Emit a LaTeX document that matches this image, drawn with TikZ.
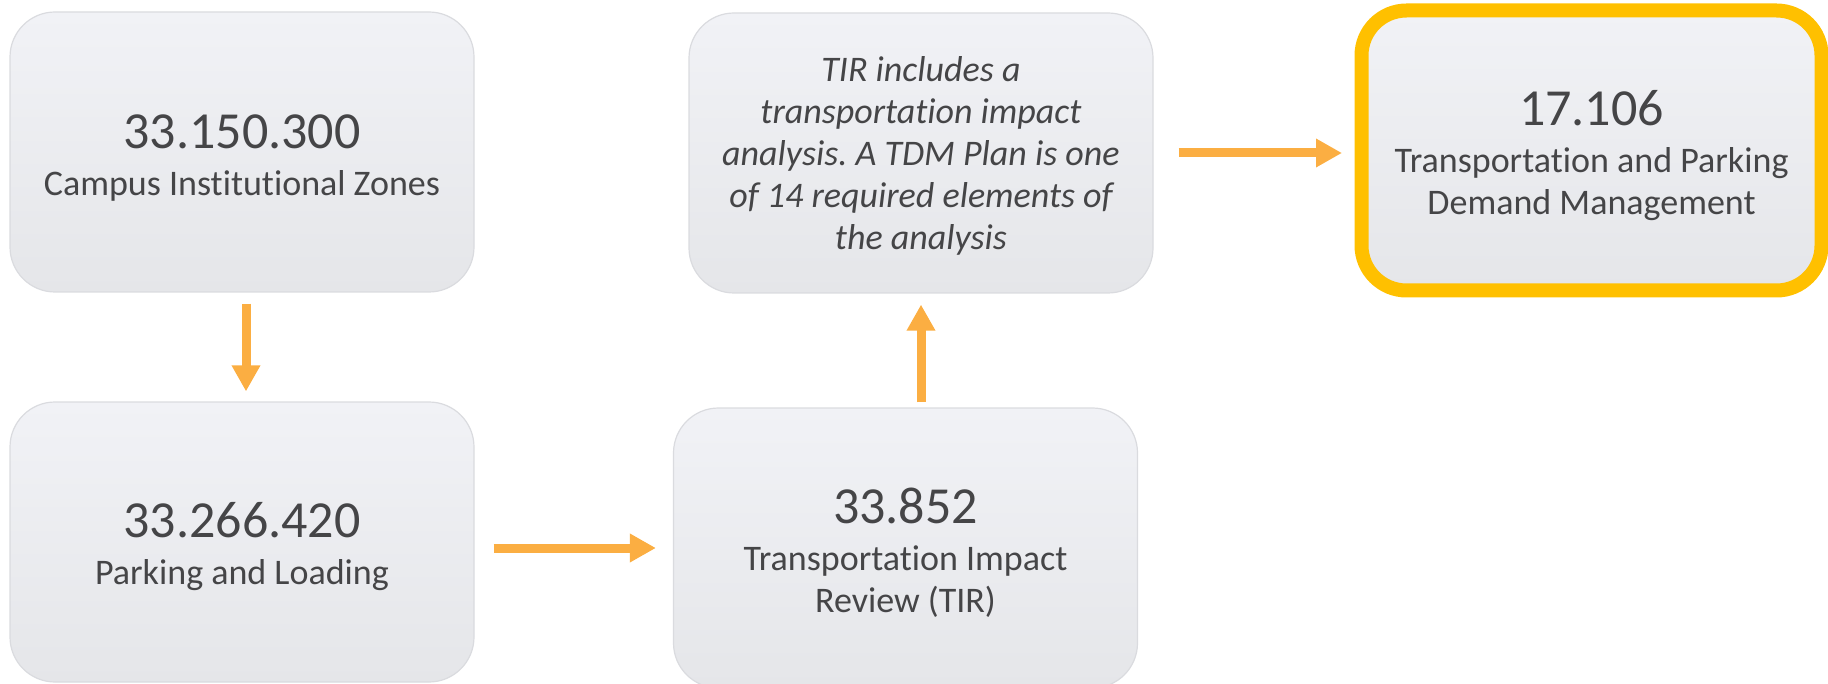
\documentclass[tikz,border=0pt]{standalone}
\usepackage{fontspec}
\setmainfont{Carlito}[RawFeature={-liga;-clig;-calt;-dlig}]
\usetikzlibrary{arrows.meta,calc}
\definecolor{txt}{HTML}{454547}
\definecolor{arr}{HTML}{FBAE42}
\definecolor{gold}{HTML}{FFC000}
\definecolor{boxtop}{HTML}{F1F2F6}
\definecolor{boxbot}{HTML}{E5E6E9}
\definecolor{boxline}{HTML}{DADBDF}
\newcommand{\bignum}[1]{{\fontsize{52}{52}\selectfont\rule{0pt}{45pt}#1}}
\frenchspacing
\begin{document}
\begin{tikzpicture}[x=1pt,y=-1pt,
  box/.style={rectangle, rounded corners=45pt, top color=boxtop, bottom color=boxbot,
    draw=boxline, line width=1.2pt, minimum width=464pt, minimum height=280pt,
    align=center, text=txt, font=\fontsize{36}{42}\selectfont, inner sep=0pt},
  hot/.style={draw=gold, line width=14pt, minimum width=460pt},
  flow/.style={draw=arr, line width=9pt, -{Triangle[length=26pt,width=27pt]}}]
\useasboundingbox (0,0) rectangle (1828,684);

\node[box] (b1) at (242,152) {\bignum{33.150.300}\\[5pt]Campus Institutional Zones};
\node[box] (b2) at (242,542) {\bignum{33.266.420}\\[5pt]Parking and Loading};
\node[box] (b3) at (905.5,548) {\bignum{33.852}\\[5pt]Transportation Impact\\Review (TIR)};
\node[box, font=\fontsize{36}{42}\selectfont\itshape] (b4) at (921,153)
  {\rule{0pt}{31pt}TIR includes a\\transportation impact\\analysis. A TDM Plan is one\\of 14 required elements of\\the analysis};
\node[box, hot] (b5) at (1591.5,150.5) {\bignum{17.106}\\[5pt]Transportation and Parking\\Demand Management};

\draw[flow, shorten <=11pt, shorten >=10pt] ($(b1.south)+(4,0)$) -- ($(b2.north)+(4,0)$);
\draw[flow, shorten <=19pt, shorten >=17pt] (b2.east |- b3.west) -- (b3.west);
\draw[flow, shorten <=5pt, shorten >=11pt] (b3.north -| b4.south) -- (b4.south);
\draw[flow, shorten <=25pt, shorten >=12.5pt] (b4.east) -- (b4.east -| b5.west);
\end{tikzpicture}
\end{document}
